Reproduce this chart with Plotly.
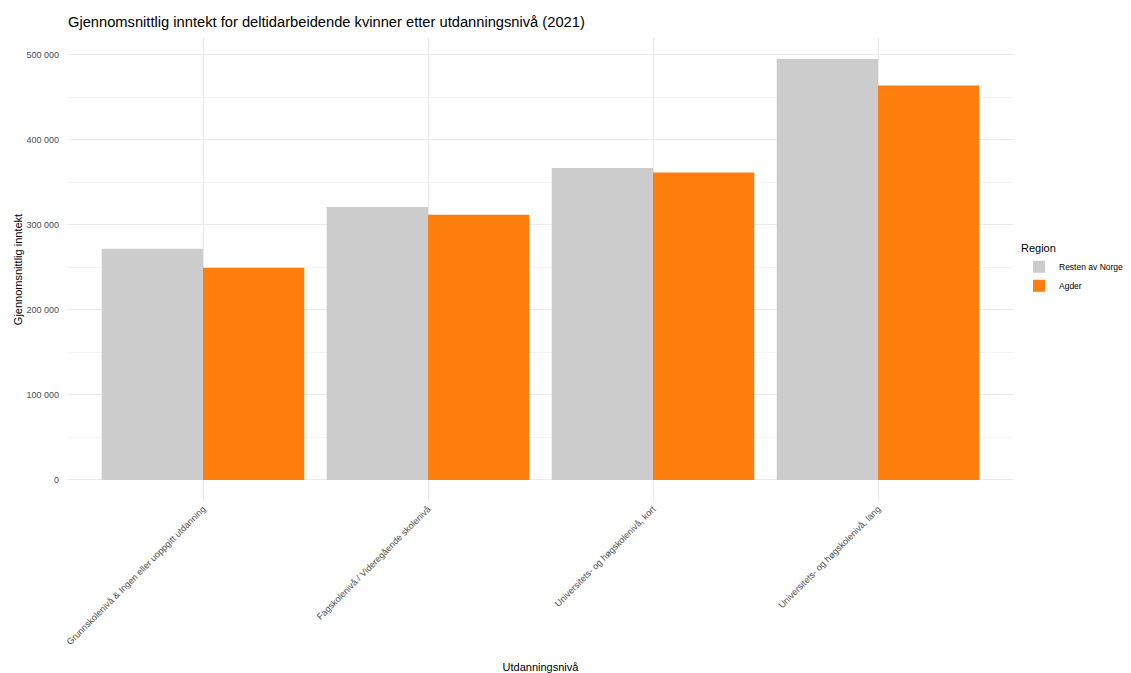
import plotly.graph_objects as go

categories = [
    "Grunnskolenivå & Ingen eller uoppgitt utdanning",
    "Fagskolenivå / Videregående skolenivå",
    "Universitets- og høgskolenivå, kort",
    "Universitets- og høgskolenivå, lang",
]
resten_av_norge = [272000, 321000, 367000, 495000]
agder = [249500, 312000, 361500, 464000]
series_names = ["Resten av Norge", "Agder"]
series_colors = ["#CCCCCC", "#FF7F0E"]
y_ticks = [0, 100000, 200000, 300000, 400000, 500000]
y_tick_labels = ["0", "100 000", "200 000", "300 000", "400 000", "500 000"]

FONT = "Liberation Sans, Arial, sans-serif"

fig = go.Figure()
for name, vals, col in zip(series_names, [resten_av_norge, agder], series_colors):
    fig.add_trace(go.Bar(
        x=categories, y=vals, name=name,
        marker=dict(color=col, line=dict(width=0)),
    ))

ymax = max(resten_av_norge + agder)
pad = 0.05 * ymax

fig.update_layout(
    width=1131, height=673,
    margin=dict(l=68, r=118, t=38, b=172, autoexpand=False),
    paper_bgcolor="white", plot_bgcolor="white",
    font=dict(family=FONT, color="#4D4D4D", size=9),
    barmode="group", bargap=0.1, bargroupgap=0,
    title=dict(
        text="Gjennomsnittlig inntekt for deltidarbeidende kvinner etter utdanningsnivå (2021)",
        x=0, xref="paper", xanchor="left",
        y=1 - 22 / 673, yref="container", yanchor="middle",
        font=dict(size=14.7, color="black", family=FONT),
    ),
    legend=dict(
        title=dict(text="Region", font=dict(size=11, color="black")),
        font=dict(size=8.5, color="black"),
        xref="container", x=1019 / 1131, xanchor="left",
        y=0.5, yanchor="middle",
        tracegroupgap=4, itemsizing="constant", itemwidth=30,
    ),
    showlegend=True,
)

fig.update_xaxes(
    range=[-0.6, len(categories) - 0.4],
    showgrid=True, gridcolor="#EBEBEB", gridwidth=1,
    showline=False, zeroline=False, ticks="",
    tickangle=-45, tickfont=dict(size=9, color="#4D4D4D"),
    title=dict(text="Utdanningsnivå", font=dict(size=11, color="black"), standoff=20),
    automargin=False,
)
fig.update_yaxes(
    range=[-pad, ymax + pad],
    tickvals=y_ticks, ticktext=y_tick_labels,
    showgrid=True, gridcolor="#EBEBEB", gridwidth=1,
    minor=dict(dtick=50000, tick0=0, showgrid=True, gridcolor="#F4F4F4", gridwidth=1),
    zeroline=False, showline=False, ticks="",
    tickfont=dict(size=9, color="#4D4D4D"),
    ticklabelstandoff=8,
    title=dict(text="Gjennomsnittlig inntekt", font=dict(size=11, color="black"), standoff=1),
    automargin=False,
)

post = (
    "document.body.style.margin='0';"
    "document.body.style.overflow='hidden';"
    "var gd=document.getElementById('{plot_id}');"
    "Plotly.relayout(gd,{width:1131,height:673});"
)

fig.write_html("out.html", post_script=post, config={"displayModeBar": False})
